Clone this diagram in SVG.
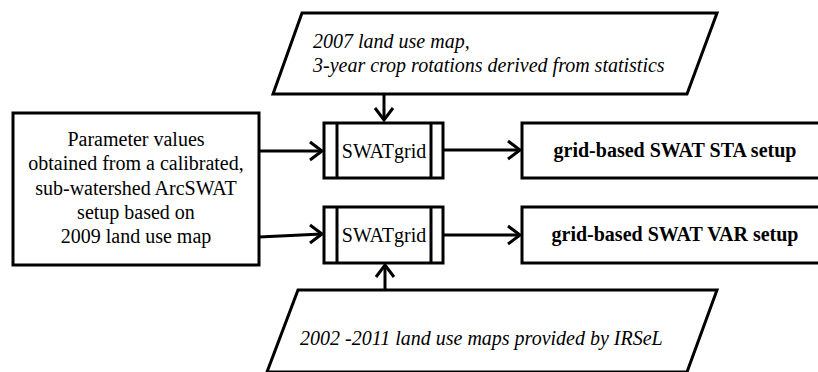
<svg xmlns="http://www.w3.org/2000/svg" width="818" height="372" viewBox="0 0 818 372">
<style>
.s{fill:#fff;stroke:#000;stroke-width:3}
.l{stroke:#000;stroke-width:3;fill:none}
.i{font-style:italic}
.b{font-weight:bold}
</style>
<rect width="818" height="372" fill="#fff"/>
<g id="connectors">
<line class="l" x1="384" y1="94" x2="384" y2="120"/>
<polyline class="l" points="375,108 384,120 393,108"/>
<line class="l" x1="259" y1="151" x2="322" y2="151"/>
<polyline class="l" points="310,142 322,151 310,160"/>
<line class="l" x1="443" y1="150" x2="520" y2="150"/>
<polyline class="l" points="508,141 520,150 508,159"/>
<line class="l" x1="259" y1="237" x2="322" y2="234"/>
<polyline class="l" points="310,225 322,234 310,243"/>
<line class="l" x1="443" y1="235" x2="520" y2="235"/>
<polyline class="l" points="508,226 520,235 508,244"/>
<line class="l" x1="385" y1="290" x2="385" y2="265"/>
<polyline class="l" points="376,277 385,265 394,277"/>
</g>
<g id="input-top">
<polygon class="s" points="302,13 717,13 687,94 273,94"/>
<text class="i" x="313" y="48" font-family="Liberation Serif" font-size="20">2007 land use map,</text>
<text class="i" x="313" y="72" font-family="Liberation Serif" font-size="20">3-year crop rotations derived from statistics</text>
</g>
<g id="params">
<rect class="s" x="13" y="113" width="246" height="152"/>
<text x="136" y="146" text-anchor="middle" font-family="Liberation Serif" font-size="20">Parameter values</text>
<text x="136" y="170" text-anchor="middle" font-family="Liberation Serif" font-size="20">obtained from a calibrated,</text>
<text x="136" y="195" text-anchor="middle" font-family="Liberation Serif" font-size="20">sub-watershed ArcSWAT</text>
<text x="136" y="219" text-anchor="middle" font-family="Liberation Serif" font-size="20">setup based on</text>
<text x="136" y="243" text-anchor="middle" font-family="Liberation Serif" font-size="20">2009 land use map</text>
</g>
<g id="swatgrid1">
<rect class="s" x="324" y="123" width="119" height="55"/>
<line class="l" x1="337" y1="123" x2="337" y2="178"/>
<line class="l" x1="431" y1="123" x2="431" y2="178"/>
<text x="384" y="158" text-anchor="middle" font-family="Liberation Serif" font-size="20">SWATgrid</text>
</g>
<g id="swatgrid2">
<rect class="s" x="324" y="207" width="119" height="56"/>
<line class="l" x1="337" y1="207" x2="337" y2="263"/>
<line class="l" x1="431" y1="207" x2="431" y2="263"/>
<text x="384" y="242" text-anchor="middle" font-family="Liberation Serif" font-size="20">SWATgrid</text>
</g>
<g id="sta">
<rect class="s" x="522" y="123" width="310" height="55"/>
<text class="b" x="675" y="157" text-anchor="middle" font-family="Liberation Serif" font-size="20">grid-based SWAT STA setup</text>
</g>
<g id="var">
<rect class="s" x="522" y="207" width="310" height="56"/>
<text class="b" x="675" y="241" text-anchor="middle" font-family="Liberation Serif" font-size="20">grid-based SWAT VAR setup</text>
</g>
<g id="input-bottom">
<polygon class="s" points="298,290 717,290 687,372 267,372"/>
<text class="i" x="300" y="345" font-family="Liberation Serif" font-size="20">2002 -2011 land use maps provided by IRSeL</text>
</g>
</svg>
